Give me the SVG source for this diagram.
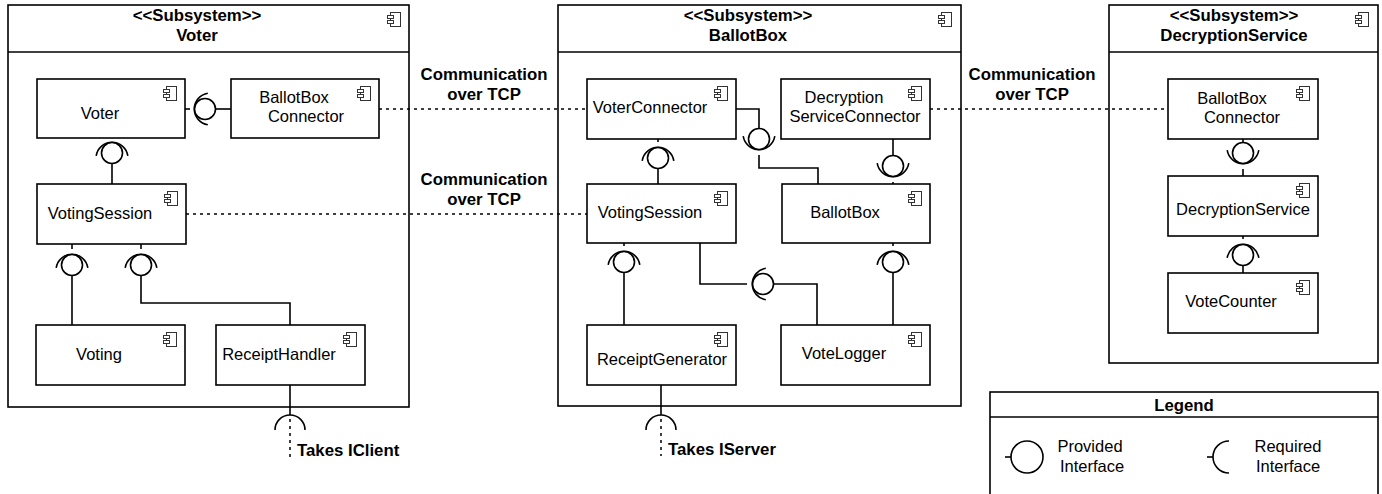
<svg xmlns="http://www.w3.org/2000/svg" width="1382" height="494" viewBox="0 0 1382 494">
  <style>
    .box { fill: #ffffff; stroke: #000000; stroke-width: 1.6; }
    .sub { fill: #ffffff; stroke: #000000; stroke-width: 1.6; }
    .wire { fill: none; stroke: #000000; stroke-width: 1.6; }
    .dot { fill: none; stroke: #000000; stroke-width: 1.5; stroke-dasharray: 3 4; }
    .ball { fill: #ffffff; stroke: #000000; stroke-width: 1.6; }
    .icon { fill: #ffffff; stroke: #333333; stroke-width: 1; }
    text { font-family: "Liberation Sans", Arial, sans-serif; font-size: 16.5px; fill: #000000; }
    .c { text-anchor: middle; }
    .b { font-weight: bold; font-size: 16.8px; }
  </style>
  <defs>
    <!-- UML component glyph -->
    <g id="cmp-icon">
      <rect class="icon" x="3.5" y="0.5" width="10" height="14"/>
      <rect class="icon" x="0.5" y="3.5" width="6" height="3"/>
      <rect class="icon" x="0.5" y="8.5" width="6" height="3"/>
    </g>
  </defs>

  <rect width="1382" height="494" fill="#ffffff"/>

  <!-- Subsystem: Voter -->
  <g id="subsystem-voter">
    <rect class="sub" x="8" y="5" width="401" height="402"/>
    <line class="wire" x1="8" y1="52" x2="409" y2="52"/>
    <text class="c b" x="197" y="21">&lt;&lt;Subsystem&gt;&gt;</text>
    <text class="c b" x="197" y="41">Voter</text>
    <use href="#cmp-icon" x="387" y="12"/>
  </g>

  <!-- Subsystem: BallotBox -->
  <g id="subsystem-ballotbox">
    <rect class="sub" x="558" y="5" width="403" height="401"/>
    <line class="wire" x1="558" y1="52" x2="961" y2="52"/>
    <text class="c b" x="748" y="21">&lt;&lt;Subsystem&gt;&gt;</text>
    <text class="c b" x="748" y="41">BallotBox</text>
    <use href="#cmp-icon" x="938" y="12"/>
  </g>

  <!-- Subsystem: DecryptionService -->
  <g id="subsystem-decryption">
    <rect class="sub" x="1109" y="5" width="269" height="358"/>
    <line class="wire" x1="1109" y1="52" x2="1378" y2="52"/>
    <text class="c b" x="1234" y="21">&lt;&lt;Subsystem&gt;&gt;</text>
    <text class="c b" x="1234" y="41">DecryptionService</text>
    <use href="#cmp-icon" x="1355" y="12"/>
  </g>

  <!-- Components inside Voter -->
  <g id="voter">
    <rect class="box" x="37" y="79" width="148" height="59"/>
    <text class="c" x="100" y="119">Voter</text>
    <use href="#cmp-icon" x="163" y="86"/>
  </g>
  <g id="voter-ballotbox-connector">
    <rect class="box" x="231" y="79" width="148" height="59"/>
    <text class="c" x="294" y="103">BallotBox</text>
    <text class="c" x="306" y="122">Connector</text>
    <use href="#cmp-icon" x="357" y="86"/>
  </g>
  <g id="voter-voting-session">
    <rect class="box" x="37" y="184" width="149" height="60"/>
    <text class="c" x="100" y="219">VotingSession</text>
    <use href="#cmp-icon" x="164" y="191"/>
  </g>
  <g id="voting">
    <rect class="box" x="36" y="325" width="149" height="60"/>
    <text class="c" x="99" y="360">Voting</text>
    <use href="#cmp-icon" x="163" y="332"/>
  </g>
  <g id="receipt-handler">
    <rect class="box" x="216" y="325" width="149" height="60"/>
    <text class="c" x="279" y="360">ReceiptHandler</text>
    <use href="#cmp-icon" x="343" y="332"/>
  </g>

  <!-- Components inside BallotBox -->
  <g id="voter-connector">
    <rect class="box" x="587" y="79" width="149" height="60"/>
    <text class="c" x="650" y="113">VoterConnector</text>
    <use href="#cmp-icon" x="714" y="86"/>
  </g>
  <g id="decryption-service-connector">
    <rect class="box" x="781" y="79" width="149" height="60"/>
    <text class="c" x="844" y="103">Decryption</text>
    <text class="c" x="855" y="122">ServiceConnector</text>
    <use href="#cmp-icon" x="908" y="86"/>
  </g>
  <g id="ballotbox-voting-session">
    <rect class="box" x="587" y="184" width="149" height="59"/>
    <text class="c" x="650" y="218">VotingSession</text>
    <use href="#cmp-icon" x="714" y="191"/>
  </g>
  <g id="ballotbox">
    <rect class="box" x="782" y="184" width="148" height="59"/>
    <text class="c" x="845" y="218">BallotBox</text>
    <use href="#cmp-icon" x="908" y="191"/>
  </g>
  <g id="receipt-generator">
    <rect class="box" x="587" y="325" width="149" height="60"/>
    <text class="c" x="662" y="365">ReceiptGenerator</text>
    <use href="#cmp-icon" x="714" y="332"/>
  </g>
  <g id="vote-logger">
    <rect class="box" x="781" y="325" width="149" height="60"/>
    <text class="c" x="844" y="359">VoteLogger</text>
    <use href="#cmp-icon" x="908" y="332"/>
  </g>

  <!-- Components inside DecryptionService -->
  <g id="decryption-ballotbox-connector">
    <rect class="box" x="1168" y="79" width="150" height="60"/>
    <text class="c" x="1232" y="104">BallotBox</text>
    <text class="c" x="1242" y="123">Connector</text>
    <use href="#cmp-icon" x="1296" y="86"/>
  </g>
  <g id="decryption-service">
    <rect class="box" x="1168" y="176" width="150" height="60"/>
    <text class="c" x="1243" y="215">DecryptionService</text>
    <use href="#cmp-icon" x="1296" y="183"/>
  </g>
  <g id="vote-counter">
    <rect class="box" x="1168" y="273" width="150" height="60"/>
    <text class="c" x="1231" y="307">VoteCounter</text>
    <use href="#cmp-icon" x="1296" y="280"/>
  </g>

  <!-- Connectors: assembly links (ball and socket) and TCP links -->
  <g id="connectors">
    <!-- Voter : BallotBoxConnector -> Voter -->
    <line class="wire" x1="185" y1="109" x2="190" y2="109"/>
    <path class="wire" d="M 207.8 93.2 A 16 16 0 0 0 207.8 124.8"/>
    <circle class="ball" cx="205" cy="109" r="10.5"/>
    <line class="wire" x1="215.5" y1="109" x2="231" y2="109"/>

    <!-- Voter : VotingSession -> Voter -->
    <path class="wire" d="M 96.2 155.8 A 16 16 0 0 1 127.8 155.8"/>
    <circle class="ball" cx="112" cy="153" r="10.5"/>
    <line class="wire" x1="112" y1="163.5" x2="112" y2="184"/>

    <!-- Voting -> VotingSession -->
    <line class="wire" x1="72" y1="244" x2="72" y2="249"/>
    <path class="wire" d="M 56.2 267.8 A 16 16 0 0 1 87.8 267.8"/>
    <circle class="ball" cx="72" cy="265" r="10.5"/>
    <line class="wire" x1="72" y1="275.5" x2="72" y2="325"/>

    <!-- ReceiptHandler -> VotingSession -->
    <line class="wire" x1="141" y1="244" x2="141" y2="249"/>
    <path class="wire" d="M 125.2 267.8 A 16 16 0 0 1 156.8 267.8"/>
    <circle class="ball" cx="141" cy="265" r="10.5"/>
    <polyline class="wire" points="141,275.5 141,303 290,303 290,325"/>

    <!-- ReceiptHandler required IClient -->
    <line class="wire" x1="290" y1="385" x2="290" y2="415"/>
    <path class="wire" d="M 275 430 A 15 15 0 0 1 305 430"/>
    <line class="dot" x1="290" y1="419" x2="290" y2="458" stroke-dasharray="2 3"/>

    <!-- BallotBox : VoterConnector -> VotingSession -->
    <line class="wire" x1="658" y1="139" x2="658" y2="142"/>
    <path class="wire" d="M 642.2 160.8 A 16 16 0 0 1 673.8 160.8"/>
    <circle class="ball" cx="658" cy="158" r="10.5"/>
    <line class="wire" x1="658" y1="168.5" x2="658" y2="184"/>

    <!-- VoterConnector -> BallotBox -->
    <polyline class="wire" points="736,109 759,109 759,128.5"/>
    <path class="wire" d="M 743.2 136.2 A 16 16 0 0 0 774.8 136.2"/>
    <circle class="ball" cx="759" cy="139" r="10.5"/>
    <polyline class="wire" points="759,155 759,168 818,168 818,184"/>

    <!-- DecryptionServiceConnector -> BallotBox -->
    <line class="wire" x1="893" y1="139" x2="893" y2="155.5"/>
    <circle class="ball" cx="893" cy="166" r="10.5"/>
    <path class="wire" d="M 877.2 163.2 A 16 16 0 0 0 908.8 163.2"/>
    <line class="wire" x1="893" y1="182" x2="893" y2="184"/>

    <!-- ReceiptGenerator -> VotingSession -->
    <line class="wire" x1="624" y1="243" x2="624" y2="246"/>
    <path class="wire" d="M 608.2 264.8 A 16 16 0 0 1 639.8 264.8"/>
    <circle class="ball" cx="624" cy="262" r="10.5"/>
    <line class="wire" x1="624" y1="272.5" x2="624" y2="325"/>

    <!-- VoteLogger -> VotingSession -->
    <polyline class="wire" points="700,243 700,284 747,284"/>
    <path class="wire" d="M 765.8 268.2 A 16 16 0 0 0 765.8 299.8"/>
    <circle class="ball" cx="763" cy="284" r="10.5"/>
    <polyline class="wire" points="773.5,284 817,284 817,325"/>

    <!-- VoteLogger -> BallotBox -->
    <line class="wire" x1="893" y1="243" x2="893" y2="246"/>
    <path class="wire" d="M 877.2 264.8 A 16 16 0 0 1 908.8 264.8"/>
    <circle class="ball" cx="893" cy="262" r="10.5"/>
    <line class="wire" x1="893" y1="272.5" x2="893" y2="325"/>

    <!-- ReceiptGenerator required IServer -->
    <line class="wire" x1="661" y1="385" x2="661" y2="415"/>
    <path class="wire" d="M 646 430 A 15 15 0 0 1 676 430"/>
    <line class="dot" x1="661" y1="419" x2="661" y2="456" stroke-dasharray="2 3"/>

    <!-- DecryptionService : BallotBoxConnector -> DecryptionService -->
    <line class="wire" x1="1243" y1="139" x2="1243" y2="142.5"/>
    <circle class="ball" cx="1243" cy="153" r="10.5"/>
    <path class="wire" d="M 1227.2 150.2 A 16 16 0 0 0 1258.8 150.2"/>
    <line class="wire" x1="1243" y1="169" x2="1243" y2="176"/>

    <!-- VoteCounter -> DecryptionService -->
    <line class="wire" x1="1243" y1="236" x2="1243" y2="239"/>
    <path class="wire" d="M 1227.2 257.8 A 16 16 0 0 1 1258.8 257.8"/>
    <circle class="ball" cx="1243" cy="255" r="10.5"/>
    <line class="wire" x1="1243" y1="265.5" x2="1243" y2="273"/>

    <!-- TCP links between subsystems -->
    <line class="dot" x1="379" y1="109" x2="587" y2="109"/>
    <line class="dot" x1="186" y1="214" x2="587" y2="214"/>
    <line class="dot" x1="930" y1="109" x2="1168" y2="109"/>
  </g>

  <!-- Link labels -->
  <g id="labels">
    <text class="c b" x="484" y="80">Communication</text>
    <text class="c b" x="484" y="100">over TCP</text>
    <text class="c b" x="484" y="185">Communication</text>
    <text class="c b" x="484" y="205">over TCP</text>
    <text class="c b" x="1032" y="80">Communication</text>
    <text class="c b" x="1032" y="100">over TCP</text>
    <text class="b" x="297" y="456">Takes IClient</text>
    <text class="b" x="668" y="455">Takes IServer</text>
  </g>

  <!-- Legend -->
  <g id="legend">
    <rect class="sub" x="990" y="392" width="388" height="110"/>
    <line class="wire" x1="990" y1="417" x2="1378" y2="417"/>
    <text class="c b" x="1184" y="411">Legend</text>
    <line class="wire" x1="1005" y1="457" x2="1011" y2="457"/>
    <circle class="ball" cx="1027" cy="457" r="16"/>
    <text class="c" x="1090" y="452">Provided</text>
    <text class="c" x="1092" y="472">Interface</text>
    <line class="wire" x1="1207" y1="457" x2="1213" y2="457"/>
    <path class="wire" d="M 1229 441 A 16 16 0 0 0 1229 473"/>
    <text class="c" x="1288" y="452">Required</text>
    <text class="c" x="1288" y="472">Interface</text>
  </g>
</svg>
